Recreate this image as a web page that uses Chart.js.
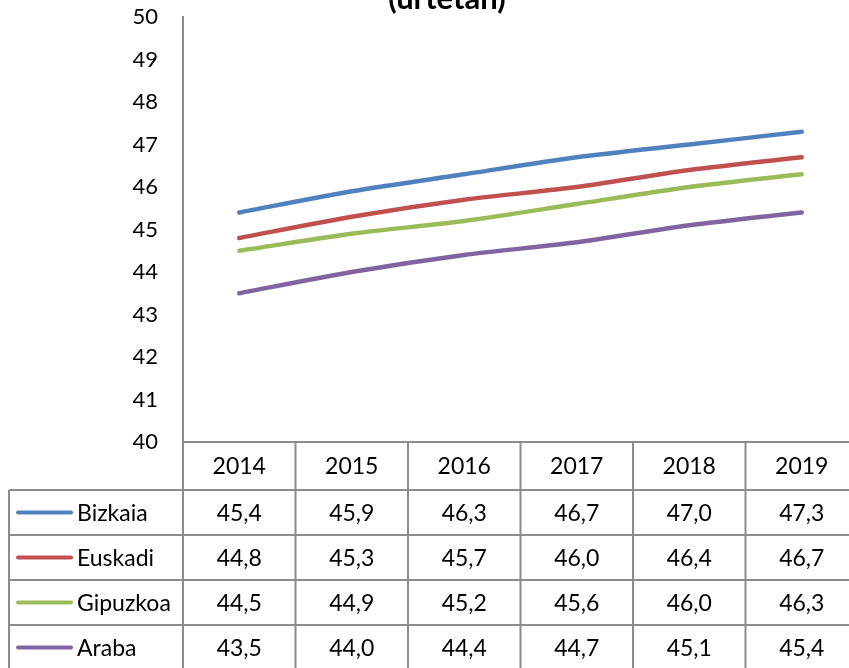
<!DOCTYPE html>
<html>
<head>
<meta charset="utf-8">
<script src="https://cdn.jsdelivr.net/npm/chart.js@4"></script>
<style>
  html, body { margin: 0; padding: 0; overflow: hidden; background: #fff; }
  #wrap { width: 858px; height: 668px; }
</style>
</head>
<body>
<div id="wrap"><canvas id="grafikoa" width="858" height="668"></canvas></div>
<script>
const urteak = ['2014', '2015', '2016', '2017', '2018', '2019'];

const bizkaia  = [45.4, 45.9, 46.3, 46.7, 47.0, 47.3];
const euskadi  = [44.8, 45.3, 45.7, 46.0, 46.4, 46.7];
const gipuzkoa = [44.5, 44.9, 45.2, 45.6, 46.0, 46.3];
const araba    = [43.5, 44.0, 44.4, 44.7, 45.1, 45.4];

const serieIzenak = ['Bizkaia', 'Euskadi', 'Gipuzkoa', 'Araba'];
const koloreak = ['#4F81BD', '#C0504D', '#9BBB59', '#8064A2'];

const yMin = 40;
const yMax = 50;

const izenburua = '(urtetan)';

const letra = 'Lato, "Open Sans", sans-serif';
const marraKolorea = '#8c8c8c';

const balioa = v => v.toFixed(1).replace('.', ',');

// taula eta izenburua marrazteko
const taulaPlugin = {
  id: 'taula',
  afterDraw(chart) {
    const { ctx, chartArea } = chart;
    const x = chart.scales.x;
    const zabalera = (chartArea.right - chartArea.left) / urteak.length;
    const goiburua = chartArea.bottom;
    const lerroak = [goiburua + 48, goiburua + 93, goiburua + 138, goiburua + 183, goiburua + 228];
    const ezkerra = 9;

    ctx.save();

    // izenburua
    ctx.fillStyle = '#000';
    ctx.font = 'bold 31px ' + letra;
    ctx.textAlign = 'center';
    ctx.textBaseline = 'alphabetic';
    ctx.fillText(izenburua, 447, 9);

    ctx.strokeStyle = marraKolorea;
    ctx.lineWidth = 2;
    ctx.beginPath();
    // x ardatza
    ctx.moveTo(chartArea.left, goiburua);
    ctx.lineTo(chartArea.right, goiburua);
    // errenkadak
    lerroak.forEach(y => {
      ctx.moveTo(ezkerra, y);
      ctx.lineTo(chartArea.right, y);
    });
    // zutabeak
    urteak.forEach((u, i) => {
      const xx = x.getPixelForValue(i) - zabalera / 2;
      ctx.moveTo(xx, goiburua);
      ctx.lineTo(xx, lerroak[4]);
    });
    ctx.moveTo(chartArea.right, goiburua);
    ctx.lineTo(chartArea.right, lerroak[4]);
    ctx.moveTo(ezkerra, lerroak[0]);
    ctx.lineTo(ezkerra, lerroak[4]);
    ctx.stroke();

    ctx.fillStyle = '#000';
    ctx.font = '23px ' + letra;
    ctx.textAlign = 'center';
    ctx.textBaseline = 'middle';
    urteak.forEach((u, i) => {
      ctx.fillText(u, x.getPixelForValue(i), (goiburua + lerroak[0]) / 2 + 1);
    });

    chart.data.datasets.forEach((ds, r) => {
      const yy = (lerroak[r] + lerroak[r + 1]) / 2 + 1;
      ds.data.forEach((v, i) => {
        ctx.textAlign = 'center';
        ctx.fillText(balioa(v), x.getPixelForValue(i), yy);
      });
      // legenda
      ctx.strokeStyle = ds.borderColor;
      ctx.lineWidth = 4;
      ctx.lineCap = 'round';
      ctx.beginPath();
      ctx.moveTo(18, yy - 1);
      ctx.lineTo(71, yy - 1);
      ctx.stroke();
      ctx.textAlign = 'left';
      ctx.fillText(ds.label, 77, yy);
    });

    ctx.restore();
  }
};

const datuak = [bizkaia, euskadi, gipuzkoa, araba];

new Chart(document.getElementById('grafikoa'), {
  type: 'line',
  data: {
    labels: urteak,
    datasets: datuak.map((d, i) => ({
      label: serieIzenak[i],
      data: d,
      borderColor: koloreak[i],
      backgroundColor: koloreak[i],
      borderWidth: 4.5,
      borderCapStyle: 'round',
      tension: 0.25,
      pointRadius: 0,
      fill: false
    }))
  },
  options: {
    responsive: false,
    animation: false,
    layout: { padding: { top: 17, right: 0, bottom: 226, left: 0 } },
    plugins: {
      legend: { display: false },
      title: { display: false },
      tooltip: { enabled: false }
    },
    scales: {
      x: { display: false, offset: true },
      y: {
        min: yMin,
        max: yMax,
        afterFit: scale => {
          scale.width = 183;
          scale.paddingTop = 0;
          scale.paddingBottom = 0;
        },
        ticks: {
          stepSize: 1,
          color: '#000',
          padding: 25,
          font: { family: letra, size: 22 }
        },
        grid: { display: false, drawTicks: false },
        border: { display: true, color: marraKolorea, width: 2 }
      }
    }
  },
  plugins: [taulaPlugin]
});
</script>
</body>
</html>
